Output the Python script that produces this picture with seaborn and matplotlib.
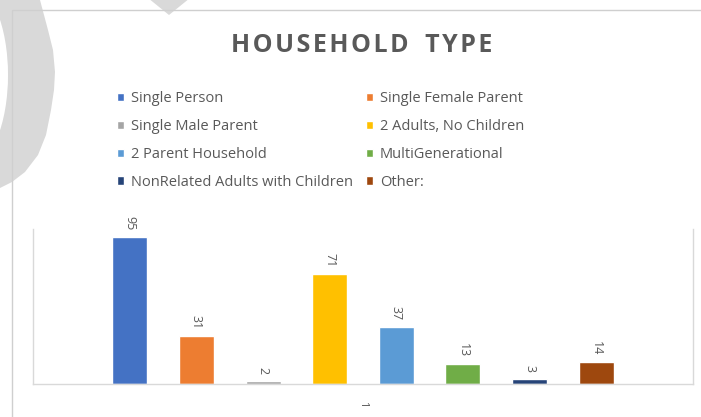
import pandas as pd
import matplotlib.pyplot as plt
import seaborn as sns
from matplotlib.patches import Polygon, Ellipse, Rectangle

household_types = ['Single Person', 'Single Female Parent', 'Single Male Parent',
                   '2 Adults, No Children', '2 Parent Household', 'MultiGenerational',
                   'NonRelated Adults with Children', 'Other:']
counts = [95, 31, 2, 71, 37, 13, 3, 14]
bar_colors = ['#4472C4', '#ED7D31', '#A5A5A5', '#FFC000',
              '#5B9BD5', '#70AD47', '#264478', '#9E480E']
category = ['1'] * len(counts)

sns.set_style('white')
plt.rcParams['font.family'] = ['Open Sans', 'DejaVu Sans']
text_gray = '#595959'
line_gray = '#d9d9d9'

fig = plt.figure(figsize=(7.01, 4.17), dpi=100)

# slide decoration behind the chart (pixel coords)
bg = fig.add_axes([0, 0, 1, 1])
bg.set_xlim(0, 701)
bg.set_ylim(417, 0)
bg.axis('off')
ring = [(-5, -5), (38, -5), (40, 0), (48, 30), (53, 50), (55, 72), (54, 90), (51, 110),
        (46, 135), (38, 155), (25, 172), (12, 182), (0, 188), (-5, 190)]
bg.add_patch(Polygon(ring, closed=True, facecolor='#d9d9d9', edgecolor='none'))
bg.add_patch(Ellipse((-30, 75), 76, 180, facecolor='white', edgecolor='none'))
bg.add_patch(Polygon([(148, -2), (190, -2), (169, 15)], closed=True,
                     facecolor='#d9d9d9', edgecolor='none'))
bg.add_patch(Rectangle((12, 10), 1000, 1000, facecolor='none', edgecolor='#cfcfcf', lw=1))

ax = fig.add_axes([33 / 701, 1 - 384 / 417, 660 / 701, 155 / 417])
ax.set_facecolor('none')

df = pd.DataFrame({'group': category, 'type': household_types, 'count': counts})
sns.barplot(data=df, x='group', y='count', hue='type', hue_order=household_types,
            palette=bar_colors, saturation=1, width=0.808, gap=0.475, ax=ax)

for c in ax.containers:
    ax.bar_label(c, rotation=270, padding=5, color=text_gray, fontsize=9)

ax.set_xlim(-0.5, 0.5)
ax.set_ylim(0, 100)
ax.set_yticks([])
ax.set_xlabel('')
ax.set_ylabel('')
ax.tick_params(axis='x', length=0, pad=12, labelcolor=text_gray, labelsize=8, labelrotation=270)
for side in ['left', 'right', 'bottom']:
    ax.spines[side].set_color(line_gray)
    ax.spines[side].set_linewidth(1)
ax.spines['top'].set_visible(False)

# legend filled row by row, two columns
handles, labels = ax.get_legend_handles_labels()
ax.get_legend().remove()
order = [0, 2, 4, 6, 1, 3, 5, 7]
fig.legend([handles[i] for i in order], [labels[i] for i in order], ncol=2,
           loc='upper left', bbox_to_anchor=(117 / 701, 1 - 91.5 / 417),
           frameon=False, fontsize=10.5, labelcolor=text_gray, handlelength=0.5,
           handleheight=0.5, handletextpad=0.45, columnspacing=0.9, labelspacing=0.87,
           borderaxespad=0, borderpad=0)

title = '\u200a'.join('HOUSEHOLD') + '\u2009 \u2009' + '\u200a'.join('TYPE')
fig.text(362 / 701, 1 - 46 / 417, title, ha='center', va='center',
         fontsize=18, fontweight='bold', color=text_gray)

fig.savefig('out.png', dpi=100)
